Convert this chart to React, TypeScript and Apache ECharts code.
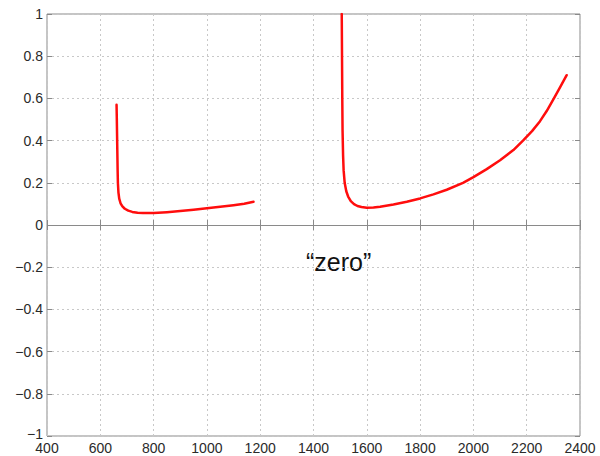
import React, { useEffect, useRef } from "react";
import * as echarts from "echarts";

// Left branch of the curve: [x, y]
const branchLowX = [661, 662, 663, 664, 665, 666, 668, 671, 676, 683, 692, 705, 720, 740, 760, 800, 850, 900, 950, 1000, 1050, 1100, 1140, 1175];
const branchLowY = [0.57, 0.5, 0.42, 0.34, 0.26, 0.2, 0.155, 0.125, 0.103, 0.088, 0.077, 0.068, 0.062, 0.058, 0.057, 0.057, 0.061, 0.066, 0.072, 0.079, 0.086, 0.094, 0.101, 0.11];

// Right branch of the curve
const branchHighX = [1506, 1507, 1508, 1509, 1511, 1513, 1517, 1523, 1530, 1540, 1552, 1565, 1580, 1600, 1625, 1650, 1700, 1750, 1800, 1850, 1900, 1961, 2000, 2050, 2100, 2150, 2186, 2220, 2250, 2275, 2300, 2325, 2350];
const branchHighY = [1.0, 0.8, 0.6, 0.45, 0.33, 0.26, 0.2, 0.16, 0.135, 0.113, 0.099, 0.09, 0.085, 0.082, 0.083, 0.086, 0.097, 0.11, 0.126, 0.145, 0.167, 0.2, 0.227, 0.265, 0.307, 0.355, 0.4, 0.445, 0.492, 0.54, 0.595, 0.652, 0.71];

const xMin = 400;
const xMax = 2400;
const xStep = 200;
const yMin = -1;
const yMax = 1;
const yStep = 0.2;

const annotation = "\u201Czero\u201D";

const zip = (xs: number[], ys: number[]) => xs.map((x, i) => [x, ys[i]]);

// y tick labels use a true minus sign; the bottom one is nudged up off the x labels
const fmtY = (v: number) => {
  const r = Math.round(v * 10) / 10;
  if (r === 0) return "0";
  const s = (r < 0 ? "\u2212" : "") + String(Math.abs(r));
  return r === yMin ? `{lift|${s}}` : s;
};

const fmtX = (v: number) => String(Math.round(v));

const FONT = "Liberation Sans, Arial, Helvetica, sans-serif";
const frame = "#8a8a8a";
const labelColor = "#2a2a2a";

export default function App() {
  const ref = useRef<HTMLDivElement>(null);

  useEffect(() => {
    document.body.style.margin = "0";
    if (!ref.current) return;
    const chart = echarts.init(ref.current, undefined, { renderer: "svg" });

    const tick = { show: true, inside: true, length: 5, lineStyle: { color: frame } };
    const grid = { left: 47, right: 20, top: 14, bottom: 20 };
    const gridLine = { show: true, lineStyle: { color: "#c8c8c8", type: [2, 3], width: 1 } };

    const lineSeries = (data: number[][], withZero: boolean) => ({
      type: "line",
      data,
      showSymbol: false,
      symbol: "none",
      smooth: false,
      lineStyle: { color: "#ff0d0d", width: 2.5, join: "round", cap: "round" },
      clip: true,
      z: 5,
      markLine: withZero
        ? {
            silent: true,
            symbol: ["none", "none"],
            label: { show: false },
            lineStyle: { color: frame, type: "solid", width: 1 },
            data: [{ yAxis: 0 }],
            z: 2,
          }
        : undefined,
    });

    chart.setOption({
      animation: false,
      backgroundColor: "#ffffff",
      grid: { ...grid, show: true, borderColor: frame, borderWidth: 1, backgroundColor: "transparent" },
      xAxis: [
        {
          type: "value",
          min: xMin,
          max: xMax,
          interval: xStep,
          axisLine: { show: false },
          axisTick: tick,
          axisLabel: { color: labelColor, fontFamily: FONT, fontSize: 14, lineHeight: 12, margin: 6, formatter: fmtX },
          splitLine: gridLine,
        },
        {
          type: "value",
          position: "top",
          min: xMin,
          max: xMax,
          interval: xStep,
          axisLine: { show: false },
          axisTick: tick,
          axisLabel: { show: false },
          splitLine: { show: false },
        },
      ],
      yAxis: [
        {
          type: "value",
          min: yMin,
          max: yMax,
          interval: yStep,
          axisLine: { show: false },
          axisTick: tick,
          axisLabel: {
            color: labelColor,
            fontFamily: FONT,
            fontSize: 14,
            lineHeight: 12,
            margin: 4,
            formatter: fmtY,
            rich: {
              lift: { color: labelColor, fontFamily: FONT, fontSize: 14, lineHeight: 12, padding: [0, 0, 5, 0] },
            },
          },
          splitLine: gridLine,
        },
        {
          type: "value",
          position: "right",
          min: yMin,
          max: yMax,
          interval: yStep,
          axisLine: { show: false },
          axisTick: tick,
          axisLabel: { show: false },
          splitLine: { show: false },
        },
      ],
      graphic: [
        {
          type: "text",
          left: 306,
          top: 249,
          style: { text: annotation, fill: "#111", font: `25px ${FONT}` },
        },
      ],
      series: [lineSeries(zip(branchLowX, branchLowY), true), lineSeries(zip(branchHighX, branchHighY), false)],
    });

    return () => chart.dispose();
  }, []);

  return <div ref={ref} style={{ width: 600, height: 456 }} />;
}
